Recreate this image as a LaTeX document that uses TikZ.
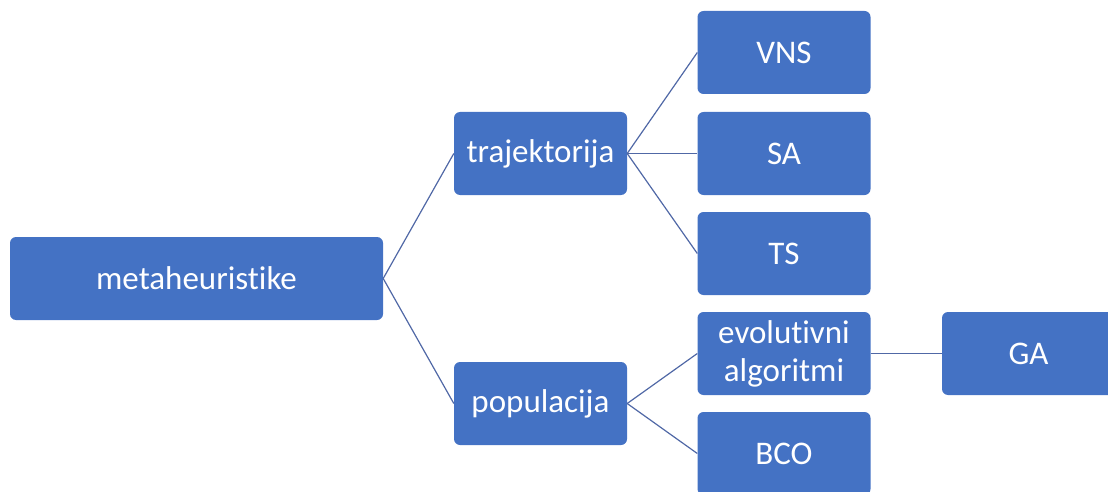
\documentclass[tikz,border=0pt]{standalone}
\usepackage{fontspec}
\setmainfont[RawFeature={-liga;-clig}]{Carlito}
\definecolor{boxblue}{HTML}{4472C4}
\definecolor{linkblue}{HTML}{5068A6}
\begin{document}
\begin{tikzpicture}[x=1pt,y=-1pt,
  box/.style={draw=none, fill=boxblue, rounded corners=6pt, inner sep=0pt,
    minimum height=83pt, text=white, align=center,
    font=\fontsize{33}{38}\selectfont},
  wide/.style={box, minimum width=373pt},
  narrow/.style={box, minimum width=173pt},
  link/.style={draw=linkblue, line width=1.2pt}]
  \clip (0,0) rectangle (1108,492);
  \useasboundingbox (0,0) rectangle (1108,492);
  % root
  \node[wide] (meta) at (196.5,278.5) {metaheuristike};
  % second level
  \node[narrow] (traj) at (540.5,153.5) {trajektorija};
  \node[narrow] (pop) at (540.5,403.5) {populacija};
  % third level
  \node[narrow] (vns) at (784,52.5) {VNS};
  \node[narrow] (sa) at (784,153.5) {SA};
  \node[narrow] (ts) at (784,253.5) {TS};
  \node[narrow] (evo) at (784,353.5) {evolutivni\\algoritmi};
  \node[narrow] (bco) at (784,453.5) {BCO};
  % fourth level
  \node[narrow] (ga) at (1028.5,353.5) {GA};
  % connectors
  \draw[link] (meta.east) -- (traj.west);
  \draw[link] (meta.east) -- (pop.west);
  \draw[link] (traj.east) -- (vns.west);
  \draw[link] (traj.east) -- (sa.west);
  \draw[link] (traj.east) -- (ts.west);
  \draw[link] (pop.east) -- (evo.west);
  \draw[link] (pop.east) -- (bco.west);
  \draw[link] (evo.east) -- (ga.west);
\end{tikzpicture}
\end{document}
